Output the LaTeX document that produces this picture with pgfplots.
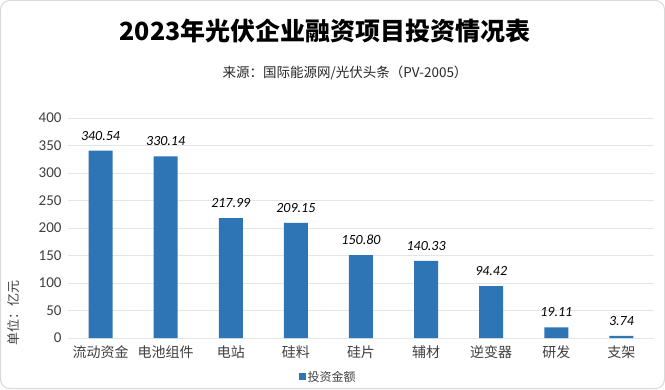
\documentclass[border=0pt]{standalone}
\usepackage{fontspec}
\usepackage{pgfplots}
\pgfplotsset{compat=1.18}
\setmainfont{Noto Sans CJK SC}
\newfontfamily\numfont{Carlito}
\definecolor{barblue}{HTML}{2E75B6}
\definecolor{txt}{HTML}{404040}
\begin{document}
\begin{tikzpicture}[x=1pt,y=1pt]
\draw[rounded corners=9pt, draw=black!15, fill=white, line width=1pt] (0.5,0.5) rectangle (664.5,388.5);
\node[font=\bfseries\fontsize{25}{28}\selectfont] at (325,358) {2023年光伏企业融资项目投资情况表};
\node[font=\fontsize{13.5}{15}\selectfont, text=black!85] at (345,316) {来源：国际能源网/光伏头条（PV-2005）};
\node[font=\fontsize{13}{15}\selectfont, text=txt, rotate=90] at (14,76) {单位：亿元};
\begin{axis}[
  at={(68pt,51pt)}, anchor=south west, scale only axis,
  width=586pt, height=220pt,
  xmin=-0.5, xmax=8.5, ymin=0, ymax=400,
  ytick={0,50,...,400},
  xtick={0,...,8},
  xticklabels={流动资金,电池组件,电站,硅料,硅片,辅材,逆变器,研发,支架},
  axis line style={draw=none},
  major tick length=0pt,
  ymajorgrids, grid style={black!10, line width=0.8pt},
  /pgf/number format/assume math mode=true,
  yticklabel style={font=\numfont\fontsize{15}{17}\selectfont, text=txt, xshift=-3pt},
  xticklabel style={font=\fontsize{14}{16}\selectfont, text=txt, yshift=-4pt},
  ybar, bar width=24pt,
  nodes near coords={\pgfmathprintnumber[fixed,fixed zerofill,precision=2,assume math mode=true]{\pgfplotspointmeta}},
  nodes near coords style={font=\numfont\itshape\fontsize{14}{16}\selectfont, text=black, anchor=south, yshift=7pt},
  legend style={at={(0.444,-0.177)}, anchor=center, draw=none, fill=none, font=\fontsize{12}{14}\selectfont, text=txt, inner sep=0pt},
  legend image code/.code={\fill[barblue] (0pt,-3.5pt) rectangle (7pt,3.5pt);},
]
\addplot[fill=barblue, draw=none] coordinates {(0,340.54) (1,330.14) (2,217.99) (3,209.15) (4,150.80) (5,140.33) (6,94.42) (7,19.11) (8,3.74)};
\addlegendentry{投资金额}
\end{axis}
\end{tikzpicture}
\end{document}
